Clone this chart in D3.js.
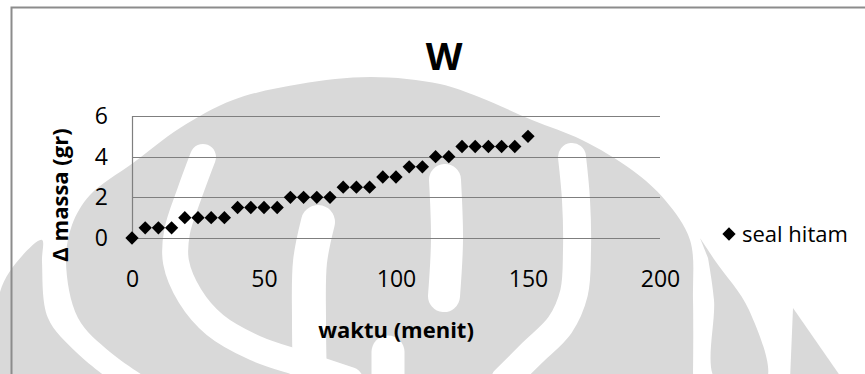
<!DOCTYPE html>
<html>
<head>
<meta charset="utf-8">
<script src="https://cdn.jsdelivr.net/npm/d3@7"></script>
<style>
  html, body { margin: 0; padding: 0; background: #ffffff; }
  svg { display: block; }
  text { font-family: "Open Sans", Lato, sans-serif; fill: #000; }
</style>
</head>
<body>
<svg id="chart" width="865" height="374"></svg>
<script>
// Series: mass change of the black seal over time
const seriesName = "seal hitam";
const waktu = [0, 5, 10, 15, 20, 25, 30, 35, 40, 45, 50, 55, 60, 65, 70, 75,
               80, 85, 90, 95, 100, 105, 110, 115, 120, 125, 130, 135, 140, 145, 150];
const massa = [0, 0.5, 0.5, 0.5, 1, 1, 1, 1, 1.5, 1.5, 1.5, 1.5, 2, 2, 2, 2,
               2.5, 2.5, 2.5, 3, 3, 3.5, 3.5, 4, 4, 4.5, 4.5, 4.5, 4.5, 4.5, 5];
const xTicks = [0, 50, 100, 150, 200];
const yTicks = [0, 2, 4, 6];
const chartTitle = "W";
const xTitle = "waktu (menit)";
const yTitle = "Δ massa (gr)";

const svg = d3.select("#chart");
const W = 865, H = 374;
const plot = { left: 132, right: 660, top: 116, bottom: 238 };

// ---- faint emblem behind the chart ----
const bg = svg.append("g").attr("class", "emblem");
const grey = "#d9d9d9";
const smooth = d3.line().curve(d3.curveCatmullRom.alpha(0.5));
const straight = d3.line();

// main dome
bg.append("path")
  .attr("d", smooth([[150, 380], [110, 352], [78, 318], [66, 262], [72, 225], [90, 195],
                     [133, 163], [180, 128], [233, 100], [300, 84], [371, 77], [440, 84],
                     [479, 97], [532, 120], [582, 140], [632, 170], [665, 200], [690, 240],
                     [693, 300], [693, 380]]) + "Z")
  .attr("fill", grey);
// outer left sliver
bg.append("path")
  .attr("d", smooth([[0, 380], [0, 292], [22, 256], [42, 240], [42, 262], [48, 318],
                     [76, 352], [110, 380]]) + "Z")
  .attr("fill", grey);
// outer right sliver
bg.append("path")
  .attr("d", smooth([[700, 238], [716, 262], [749, 310], [766, 380], [716, 380],
                     [714, 300], [708, 258]]) + "Z")
  .attr("fill", grey);
// small piece at lower right
bg.append("path")
  .attr("d", straight([[793, 308], [843, 380], [790, 380]]) + "Z")
  .attr("fill", grey);

// white bands cut through the dome
const band = (pts, w) => bg.append("path")
  .attr("d", smooth(pts))
  .attr("fill", "none").attr("stroke", "#fff")
  .attr("stroke-width", w).attr("stroke-linecap", "round");
band([[203, 157], [190, 192], [177, 232], [176, 262], [190, 296], [215, 325],
      [255, 348], [305, 365], [350, 380]], 26);
band([[572, 157], [576, 200], [577, 250], [574, 293], [560, 325], [532, 353], [505, 380]], 28);
band([[318, 222], [310, 262], [309, 320], [310, 385]], 34);
band([[445, 180], [447, 240], [444, 296]], 32);
band([[388, 352], [388, 385]], 33);

// ---- chart frame ----
svg.append("rect")
  .attr("x", 11.5).attr("y", 7.5)
  .attr("width", W + 20).attr("height", H + 20)
  .attr("fill", "none").attr("stroke", "#8c8c8c").attr("stroke-width", 2);

// ---- scales ----
const x = d3.scaleLinear().domain([0, 200]).range([plot.left, plot.right]);
const y = d3.scaleLinear().domain([0, 6]).range([plot.bottom, plot.top]);

// gridlines
svg.append("g")
  .selectAll("line").data(yTicks).join("line")
  .attr("x1", x(0)).attr("x2", x(200))
  .attr("y1", d => Math.round(y(d)) + 0.5).attr("y2", d => Math.round(y(d)) + 0.5)
  .attr("stroke", "#7f7f7f").attr("stroke-width", 1.2);

// vertical axis line
svg.append("line")
  .attr("x1", Math.round(x(0)) + 0.5).attr("x2", Math.round(x(0)) + 0.5)
  .attr("y1", y(6)).attr("y2", y(0))
  .attr("stroke", "#7f7f7f").attr("stroke-width", 1.2);

// axes (labels only)
const tickFont = 23;
const gx = svg.append("g")
  .attr("transform", `translate(0,${plot.bottom})`)
  .call(d3.axisBottom(x).tickValues(xTicks).tickSize(0).tickPadding(33).tickFormat(d3.format("d")));
gx.select(".domain").remove();
gx.selectAll("text").attr("font-size", tickFont).attr("font-family", null).style("fill", "#000");

const gy = svg.append("g")
  .attr("transform", `translate(${plot.left},0)`)
  .call(d3.axisLeft(y).tickValues(yTicks).tickSize(0).tickPadding(24).tickFormat(d3.format("d")));
gy.select(".domain").remove();
gy.selectAll("text").attr("font-size", tickFont).attr("font-family", null).style("fill", "#000");

// markers
const diamond = d3.symbol().type(d3.symbolSquare).size(88);
svg.append("g")
  .selectAll("path").data(waktu.map((t, i) => ({ t, m: massa[i] }))).join("path")
  .attr("d", diamond)
  .attr("transform", d => `translate(${x(d.t)},${y(d.m)}) rotate(45)`)
  .attr("fill", "#000");

// titles
svg.append("text")
  .attr("x", 444).attr("y", 70)
  .attr("text-anchor", "middle")
  .attr("font-size", 38).attr("font-weight", "bold")
  .text(chartTitle);

svg.append("text")
  .attr("x", (plot.left + plot.right) / 2).attr("y", 338)
  .attr("text-anchor", "middle")
  .attr("font-size", 22).attr("font-weight", "bold")
  .text(xTitle);

svg.append("text")
  .attr("transform", `translate(68,195) rotate(-90)`)
  .attr("text-anchor", "middle")
  .attr("font-size", 22).attr("font-weight", "bold")
  .text(yTitle);

// legend
const legend = svg.append("g").attr("transform", "translate(729,234)");
legend.append("path").attr("d", diamond).attr("transform", "rotate(45)").attr("fill", "#000");
legend.append("text")
  .attr("x", 13).attr("y", 8)
  .attr("font-size", 22)
  .text(seriesName);
</script>
</body>
</html>
